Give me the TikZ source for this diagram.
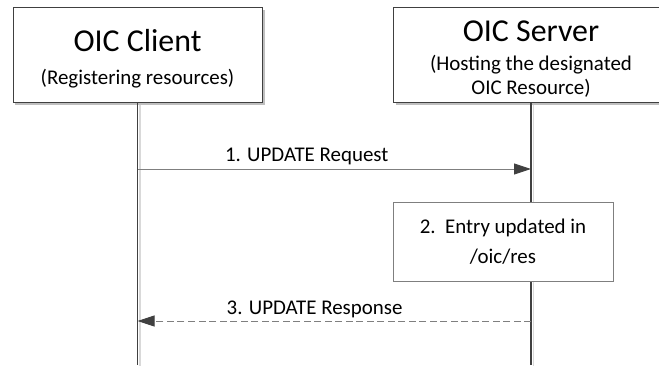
\documentclass[tikz,border=0pt]{standalone}
\usepackage{fontspec}
\setmainfont{Carlito}
\usetikzlibrary{shadows,arrows.meta}
\definecolor{linegray}{HTML}{404040}
\definecolor{msggray}{HTML}{7F7F7F}
\tikzset{
  actor/.style={draw=linegray, fill=white, minimum height=95bp,
    drop shadow={shadow xshift=2.5bp, shadow yshift=-2.5bp, fill=black!25, opacity=1}},
  lifeline/.style={draw=linegray, line width=1.3bp,
    preaction={draw=black!15, line width=1.6bp, transform canvas={xshift=2.5bp, yshift=-2.5bp}}},
  msg/.style={draw=msggray, line width=0.9bp,
    -{Triangle[length=17bp, width=11bp, color=linegray]}},
  reply/.style={msg, dash pattern=on 7bp off 3.5bp},
  stepnote/.style={draw=msggray, fill=white, align=center, minimum width=220bp, minimum height=79bp,
    font=\fontsize{21}{30}\selectfont},
  title/.style={inner sep=0pt, anchor=base, font=\fontsize{32}{36}\selectfont},
  small/.style={font=\fontsize{21}{25}\selectfont}
}
\begin{document}
\begin{tikzpicture}[x=1bp, y=-1bp]
\useasboundingbox (0,0) rectangle (659,365);
% the two parties
\node[actor, minimum width=249bp] (client) at (137.5,54.5) {};
\node[title] (clientname) at (137.5,51) {OIC Client};
\node[small, inner sep=0pt, anchor=base] (clientrole) at (137.5,84) {(Registering resources)};
\node[actor, minimum width=276bp] (server) at (531,54.5) {};
\node[title] (servername) at (531,41) {OIC Server};
\node[small, inner sep=0pt, anchor=base, align=center, font=\fontsize{21}{24}\selectfont] (serverrole)
  at (531,94) {(Hosting the designated\\OIC Resource)};
% lifelines
\coordinate (clientend) at (client.south |- 0,365);
\coordinate (serverend) at (server.south |- 0,365);
\draw[lifeline] (client.south) -- (clientend);
\draw[lifeline] (server.south) -- (serverend);
% 1. request
\coordinate (reqa) at (client.south |- 0,169);
\coordinate (reqb) at (server.south |- 0,169);
\draw[msg] (reqa) -- (reqb) node[small, pos=0.43, above=0.5bp] {1. UPDATE Request};
% 2. local step
\node[stepnote] (entry) at (503,241.5) {2.\ \ Entry updated in\\/oic/res};
% 3. response
\coordinate (resa) at (server.south |- 0,321);
\coordinate (resb) at (client.south |- 0,321);
\draw[reply] (resa) -- (resb) node[small, pos=0.55, above=-1bp] {3. UPDATE Response};
\end{tikzpicture}
\end{document}
